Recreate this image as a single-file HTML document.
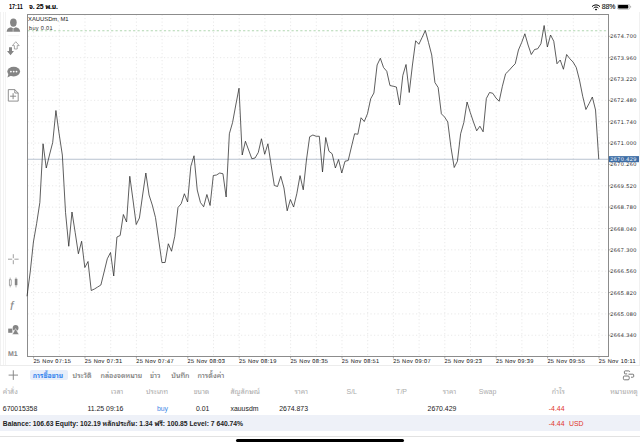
<!DOCTYPE html>
<html><head><meta charset="utf-8"><title>MT5 Chart</title>
<style>
html,body{margin:0;padding:0;width:640px;height:447px;overflow:hidden;background:#fff;}
body{position:relative;font-family:"Liberation Sans","Noto Sans Thai Looped","Noto Sans Thai",sans-serif;color:#111;}
.a{position:absolute;white-space:nowrap;}
svg text{font-family:"Liberation Sans",sans-serif;text-rendering:geometricPrecision;}
.pl{font-size:5.5px;letter-spacing:0.46px;fill:#222;}
.tl{font-size:5.6px;letter-spacing:0.37px;fill:#222;stroke:#222;stroke-width:0.06px;}
.hd{font-size:5.85px;fill:#222;}
.hd2{font-size:5.6px;fill:#333;letter-spacing:0.3px;}
.sb{font-size:7px;font-weight:bold;color:#000;}
.tab{font-size:7.1px;color:#767676;top:372.1px;line-height:8px;font-weight:500;}
.th{font-size:7px;color:#ababab;top:387.7px;line-height:8px;}
.td{font-size:6.9px;color:#1a1a1a;top:404.5px;line-height:8px;}
.r{text-align:right;}
</style></head><body>
<!-- status bar -->
<div class="a sb" style="left:9.4px;top:2.9px;line-height:8px;font-size:7px;transform:scaleX(0.78);transform-origin:0 0;">17:11</div>
<div class="a sb" style="left:29px;top:2.9px;line-height:8px;font-size:6.9px;letter-spacing:-0.2px;">จ. 25 พ.ย.</div>
<svg class="a" style="left:591px;top:3.9px" width="10" height="7" viewBox="0 0 10 7">
 <path d="M1 2.6 A5.5 5.5 0 0 1 9 2.6" stroke="#000" stroke-width="1" fill="none"/>
 <path d="M2.6 4.1 A3.2 3.2 0 0 1 7.4 4.1" stroke="#000" stroke-width="1" fill="none"/>
 <path d="M5 6.6 L3.8 5.4 A1.6 1.6 0 0 1 6.2 5.4 Z" fill="#000"/>
</svg>
<div class="a sb" style="left:601.7px;top:3.4px;line-height:8px;font-size:6.9px;font-weight:normal;color:#222;-webkit-text-stroke:0.15px #222;">88%</div>
<svg class="a" style="left:617.3px;top:4.0px" width="16" height="6" viewBox="0 0 16 6">
 <rect x="0.35" y="0.35" width="12.4" height="4.9" rx="1.4" fill="none" stroke="#aaa" stroke-width="0.7"/>
 <rect x="1.1" y="1.1" width="10.2" height="3.4" rx="0.7" fill="#000"/>
 <path d="M13.6 2v1.6" stroke="#aaa" stroke-width="0.9"/>
</svg>
<svg class="a" style="left:0;top:0" width="640" height="372" viewBox="0 0 640 372">
<path d="M33.60 14.5V356.5M59.30 14.5V356.5M85.00 14.5V356.5M110.70 14.5V356.5M136.40 14.5V356.5M162.10 14.5V356.5M187.80 14.5V356.5M213.50 14.5V356.5M239.20 14.5V356.5M264.90 14.5V356.5M290.60 14.5V356.5M316.30 14.5V356.5M342.00 14.5V356.5M367.70 14.5V356.5M393.40 14.5V356.5M419.10 14.5V356.5M444.80 14.5V356.5M470.50 14.5V356.5M496.20 14.5V356.5M521.90 14.5V356.5M547.60 14.5V356.5M573.30 14.5V356.5M599.00 14.5V356.5M27.5 36.30H608.5M27.5 57.66H608.5M27.5 79.01H608.5M27.5 100.36H608.5M27.5 121.72H608.5M27.5 143.07H608.5M27.5 164.43H608.5M27.5 185.79H608.5M27.5 207.14H608.5M27.5 228.50H608.5M27.5 249.85H608.5M27.5 271.20H608.5M27.5 292.56H608.5M27.5 313.92H608.5M27.5 335.27H608.5" stroke="#dadada" stroke-width="0.6" stroke-dasharray="1.2 2.3" fill="none"/>
<path d="M27.5 30.75H608.5" stroke="#b0d6b0" stroke-width="1" stroke-dasharray="2.2 2.2" fill="none"/>
<path d="M27.5 159.25H608.5" stroke="#a6b2c4" stroke-width="0.8" fill="none"/>
<rect x="27.5" y="14.5" width="581.0" height="342.0" fill="none" stroke="#8c8c8c" stroke-width="1"/>
<path d="M608.5 36.30h2M608.5 57.66h2M608.5 79.01h2M608.5 100.36h2M608.5 121.72h2M608.5 143.07h2M608.5 164.43h2M608.5 185.79h2M608.5 207.14h2M608.5 228.50h2M608.5 249.85h2M608.5 271.20h2M608.5 292.56h2M608.5 313.92h2M608.5 335.27h2M33.60 356.5v2M85.00 356.5v2M136.40 356.5v2M187.80 356.5v2M239.20 356.5v2M290.60 356.5v2M342.00 356.5v2M393.40 356.5v2M444.80 356.5v2M496.20 356.5v2M547.60 356.5v2M599.00 356.5v2" stroke="#777" stroke-width="0.6" fill="none"/>
<polyline points="27.0,296.25 30.21,272 33.42,242 36.64,223.5 39.85,202.5 43.06,143.75 46.27,168 49.48,155 52.7,142.5 55.91,110.5 59.12,133.75 62.33,155 65.54,212.5 68.76,246.25 71.97,212 75.18,232.5 78.39,253.75 81.61,241.25 84.82,267.5 88.03,261.5 91.24,290.5 94.45,289 97.67,287 100.88,285 104.09,272 107.3,258.75 110.51,252.5 113.73,276 116.94,237 120.15,235.5 123.36,214.5 126.57,222 129.79,176.25 133.0,200 136.21,224.5 139.42,218 142.63,195 145.85,173 149.06,195 152.27,205 155.48,217.5 158.7,240 161.91,262.5 165.12,262.5 168.33,243.75 171.54,251.25 174.76,236.25 177.97,207.5 181.18,203.75 184.39,193.75 187.6,202 190.82,166.25 194.03,155.75 197.24,190 200.45,202.5 203.66,206.75 206.88,194.5 210.09,205.5 213.3,175.5 216.51,175 219.72,173 222.94,173.75 226.15,197 229.36,133.75 232.57,122.5 235.79,105 239.0,88.25 242.21,155 245.42,141.25 248.63,150 251.85,158.75 255.06,158 258.27,152.5 261.48,138.75 264.69,154.25 267.91,143.75 271.12,165 274.33,185.5 277.54,186.5 280.75,176.25 283.97,188 287.18,210.8 290.39,199.5 293.6,207 296.81,193.75 300.03,175.6 303.24,189.8 306.45,160 309.66,136.75 312.88,135 316.09,136.25 319.3,136.25 322.51,172 325.72,137.5 328.94,151.25 332.15,153.75 335.36,168 338.57,159.5 341.78,173 345.0,161.25 348.21,160.5 351.42,147 354.63,133.75 357.84,134.25 361.06,117.75 364.27,121.5 367.48,113.75 370.69,98.75 373.9,93 377.12,65 380.33,58.25 383.54,67.5 386.75,71.25 389.96,85.5 393.18,86.25 396.39,87 399.6,105 402.81,75.5 406.03,64.5 409.24,92.5 412.45,65 415.66,40.75 418.87,44.25 422.09,37.5 425.3,30.5 428.51,42.5 431.72,55 434.93,82.5 438.15,87.5 441.36,113.8 444.57,117 447.78,122 450.99,147.5 454.21,167.5 457.42,161.25 460.63,133.75 463.84,122.5 467.05,102 470.27,112.5 473.48,122 476.69,130.8 479.9,126.2 483.12,131.8 486.33,98.5 489.54,92.5 492.75,93.25 495.96,98 499.18,101.25 502.39,86.25 505.6,73.75 508.81,70.75 512.02,67 515.24,63.75 518.45,50 521.66,42.5 524.87,33.75 528.08,45 531.3,54.5 534.51,49.5 537.72,48.75 540.93,43.75 544.14,25.5 547.36,47 550.57,35 553.78,41.25 556.99,63.75 560.21,60 563.42,69.25 566.63,54.5 569.84,58.75 573.05,62 576.27,67.5 579.48,80 582.69,96.25 585.9,109.5 589.11,103.5 592.33,97 595.54,110 598.75,159.25" fill="none" stroke="#2a2a2a" stroke-width="0.75" stroke-linejoin="miter" stroke-miterlimit="3"/>
<text x="610.2" y="38.30" class="pl">2674.700</text>
<text x="610.2" y="59.66" class="pl">2673.960</text>
<text x="610.2" y="81.01" class="pl">2673.220</text>
<text x="610.2" y="102.36" class="pl">2672.480</text>
<text x="610.2" y="123.72" class="pl">2671.740</text>
<text x="610.2" y="145.07" class="pl">2671.000</text>
<text x="610.2" y="166.43" class="pl">2670.260</text>
<text x="610.2" y="187.79" class="pl">2669.520</text>
<text x="610.2" y="209.14" class="pl">2668.780</text>
<text x="610.2" y="230.50" class="pl">2668.040</text>
<text x="610.2" y="251.85" class="pl">2667.300</text>
<text x="610.2" y="273.20" class="pl">2666.560</text>
<text x="610.2" y="294.56" class="pl">2665.820</text>
<text x="610.2" y="315.92" class="pl">2665.080</text>
<text x="610.2" y="337.27" class="pl">2664.340</text>
<rect x="608.9" y="156.1" width="30.8" height="6.1" fill="#3e6ea6"/>
<text x="610.2" y="161.35" class="pl" style="fill:#fff">2670.429</text>
<text x="33.40" y="362.9" class="tl">25 Nov 07:15</text>
<text x="84.80" y="362.9" class="tl">25 Nov 07:31</text>
<text x="136.20" y="362.9" class="tl">25 Nov 07:47</text>
<text x="187.60" y="362.9" class="tl">25 Nov 08:03</text>
<text x="239.00" y="362.9" class="tl">25 Nov 08:19</text>
<text x="290.40" y="362.9" class="tl">25 Nov 08:35</text>
<text x="341.80" y="362.9" class="tl">25 Nov 08:51</text>
<text x="393.20" y="362.9" class="tl">25 Nov 09:07</text>
<text x="444.60" y="362.9" class="tl">25 Nov 09:23</text>
<text x="496.00" y="362.9" class="tl">25 Nov 09:39</text>
<text x="547.40" y="362.9" class="tl">25 Nov 09:55</text>
<text x="598.80" y="362.9" class="tl">25 Nov 10:11</text>
<text x="28" y="21" class="hd">XAUUSDm, M1</text>
<text x="29" y="29.9" class="hd2">buy 0.01</text>
</svg>
<!-- sidebar icons -->
<svg class="a" style="left:0;top:14px" width="27" height="345" viewBox="0 14 27 345">
 <g fill="#858585">
  <ellipse cx="13.4" cy="22.6" rx="3.3" ry="4.2"/>
  <path d="M6.6 31.8 C6.8 28.9 8.6 27.8 11 27.3 L13.4 28.6 L15.8 27.3 C18.2 27.8 20 28.9 20.2 31.8 Z"/>
 </g>
 <path d="M13.1 28.8v3" stroke="#fff" stroke-width="0.5"/>
 <path d="M7.8 35.6h11.4" stroke="#e6e6e6" stroke-width="0.4"/>
 <!-- arrows -->
 <path d="M9 47.2 v3.8 h-2 l3.5 4.2 l3.5 -4.2 h-2 v-3.8 z" fill="#858585"/>
 <path d="M14.4 49 v-3.4 h-2 l3.4 -3.9 l3.4 3.9 h-2 v3.4 z" fill="none" stroke="#858585" stroke-width="0.7"/>
 <!-- chat -->
 <ellipse cx="13.7" cy="71.6" rx="6.4" ry="4.8" fill="#858585"/>
 <path d="M8.6 73.5 L7.4 77.4 L11.4 75.6 Z" fill="#858585"/>
 <g fill="#fff"><circle cx="10.9" cy="71.6" r="0.9"/><circle cx="13.7" cy="71.6" r="0.9"/><circle cx="16.5" cy="71.6" r="0.9"/></g>
 <!-- doc plus -->
 <path d="M8.3 89.6 h6.5 l3.4 3.4 v8.1 h-9.9 z M14.8 89.6 v3.4 h3.4" fill="none" stroke="#858585" stroke-width="0.9"/>
 <path d="M10.1 96.2 h6 M13.1 93.2 v6" stroke="#858585" stroke-width="0.95"/>
 <!-- crosshair -->
 <path d="M8 259.2 h4.2 M14.4 259.2 h4.2 M13.3 254.2 v4 M13.3 260.2 v4" stroke="#888" stroke-width="0.8"/>
 <!-- candles -->
 <path d="M10.2 277.6 v9.8" stroke="#858585" stroke-width="0.6"/>
 <rect x="9.3" y="279.8" width="1.9" height="5.4" fill="#fff" stroke="#858585" stroke-width="0.7"/>
 <path d="M16 277.4 v10" stroke="#858585" stroke-width="0.6"/>
 <rect x="14.8" y="278.8" width="2.6" height="6.4" fill="#858585"/>
 <!-- f -->
 <text x="10" y="309.8" font-family="Liberation Serif,serif" font-style="italic" font-size="12.5" fill="#8a8a8a">f</text>
 <!-- shapes -->
 <circle cx="15.6" cy="328" r="2.9" fill="#858585"/>
 <rect x="8.2" y="328.6" width="4.2" height="4.2" fill="#858585"/>
 <path d="M15.6 328.6 L19 334.5 L12.2 334.5 Z" fill="#858585" stroke="#fff" stroke-width="0.5"/>
 <text x="8" y="356" font-family="Liberation Sans,sans-serif" font-weight="bold" font-size="7" fill="#858585">M1</text>
</svg>
<div class="a" style="left:639px;top:12px;width:1px;height:353px;background:#f1f1f1"></div>
<div class="a" style="left:0;top:12px;width:1px;height:353px;background:#f1f1f1"></div>
<div class="a" style="left:3px;top:12px;width:0.6px;height:353px;background:#f3f3f3"></div>
<div class="a" style="left:5px;top:12px;width:0.6px;height:353px;background:#f3f3f3"></div>
<!-- bottom panel -->
<div class="a" style="left:0;top:365.4px;width:640px;height:0.6px;background:#ececec"></div>
<svg class="a" style="left:7px;top:369px" width="13" height="13" viewBox="0 0 13 13"><path d="M6.3 1.3v9.6 M1.6 6.1h9.4" stroke="#858585" stroke-width="0.95"/></svg>
<div class="a" style="left:30px;top:369.8px;width:37.5px;height:10.2px;background:#e7eefa;border-radius:2px"></div>
<div class="a tab" style="left:32.8px;color:#3584ee;font-weight:bold;font-size:6.8px;">การซื้อขาย</div>
<div class="a tab" style="left:72.6px;">ประวัติ</div>
<div class="a tab" style="left:100.5px;">กล่องจดหมาย</div>
<div class="a tab" style="left:150px;">ข่าว</div>
<div class="a tab" style="left:171.3px;">บันทึก</div>
<div class="a tab" style="left:197.5px;">การตั้งค่า</div>
<svg class="a" style="left:622px;top:369.5px" width="13" height="11" viewBox="0 0 13 11" fill="none" stroke="#6a6a6a" stroke-width="0.9">
 <path d="M7.6 1.9 V1.7 Q7.6 0.9 6.8 0.9 H3.2 Q2.4 0.9 2.4 1.7 V3.1 Q2.4 3.9 3.2 3.9 H5.2"/>
 <path d="M6.5 4.2 H10.9 Q11.7 4.2 11.7 5 V6.4 Q11.7 7.2 10.9 7.2 H9"/>
 <rect x="1.4" y="6" width="5.8" height="3.8" rx="1.1"/>
</svg>
<!-- header -->
<div class="a th" style="left:2.8px;">คำสั่ง</div>
<div class="a th r" style="right:516.7px;">เวลา</div>
<div class="a th r" style="right:472px;">ประเภท</div>
<div class="a th r" style="right:430.7px;">ขนาด</div>
<div class="a th" style="left:230.5px;">สัญลักษณ์</div>
<div class="a th r" style="right:332px;">ราคา</div>
<div class="a th r" style="right:283px;">S/L</div>
<div class="a th r" style="right:233px;">T/P</div>
<div class="a th r" style="right:183.7px;">ราคา</div>
<div class="a th r" style="right:143.7px;">Swap</div>
<div class="a th r" style="right:75.3px;">กำไร</div>
<div class="a th r" style="right:2.2px;">หมายเหตุ</div>
<!-- row -->
<div class="a td" style="left:2.8px;">670015358</div>
<div class="a td r" style="right:516.7px;">11.25 09:16</div>
<div class="a td r" style="right:472px;color:#3d86e6;">buy</div>
<div class="a td r" style="right:430.7px;">0.01</div>
<div class="a td" style="left:230.5px;">xauusdm</div>
<div class="a td r" style="right:332px;">2674.873</div>
<div class="a td r" style="right:183.7px;">2670.429</div>
<div class="a td r" style="right:75.5px;color:#e0352b;">-4.44</div>
<!-- balance -->
<div class="a" style="left:0;top:415.4px;width:640px;height:16px;background:#eef1f8"></div>
<div class="a td" style="left:2.8px;top:420.3px;color:#222;font-weight:bold;font-size:6.75px;">Balance: 106.63 Equity: 102.19 หลักประกัน: 1.34 ฟรี: 100.85 Level: 7 640.74%</div>
<div class="a td r" style="right:75.5px;top:420.2px;color:#e0352b;">-4.44</div>
<div class="a td" style="left:569px;top:420.2px;color:#e0352b;">USD</div>
<div class="a" style="left:0;top:436.4px;width:640px;height:0.6px;background:#e2e2e2"></div>
<div class="a" style="left:235.8px;top:439.4px;width:168.6px;height:3.1px;background:#000;border-radius:2px"></div>
</body></html>
